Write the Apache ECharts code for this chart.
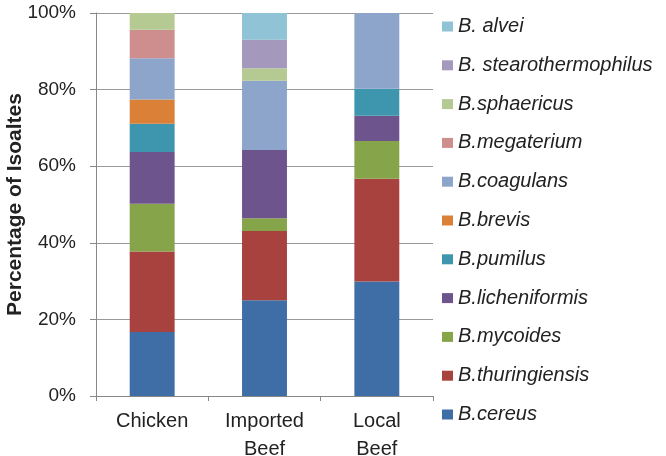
<!DOCTYPE html>
<html>
<head>
<meta charset="utf-8">
<script src="https://cdn.jsdelivr.net/npm/echarts@6/dist/echarts.min.js"></script>
<style>html,body{margin:0;padding:0;background:#fff}#c{width:666px;height:456px}</style>
</head>
<body>
<div id="c"></div>
<script>
const categories = ['Chicken', 'Imported\nBeef', 'Local\nBeef'];
const seriesNames = ['B.cereus', 'B.thuringiensis', 'B.mycoides', 'B.licheniformis', 'B.pumilus', 'B.brevis', 'B.coagulans', 'B.megaterium', 'B.sphaericus', 'B. stearothermophilus', 'B. alvei'];
const cereus = [16.7, 25.0, 29.9];
const thuringiensis = [21.0, 18.1, 26.8];
const mycoides = [12.5, 3.3, 9.9];
const licheniformis = [13.5, 17.8, 6.6];
const pumilus = [7.4, 0, 7.0];
const brevis = [6.3, 0, 0];
const coagulans = [10.8, 18.1, 19.8];
const megaterium = [7.4, 0, 0];
const sphaericus = [4.4, 3.3, 0];
const stearothermophilus = [0, 7.4, 0];
const alvei = [0, 7.0, 0];
const yTicks = [0, 20, 40, 60, 80, 100];

const seriesData = [cereus, thuringiensis, mycoides, licheniformis, pumilus, brevis, coagulans, megaterium, sphaericus, stearothermophilus, alvei];
const colors = ['#3F6EA6', '#A8423F', '#86A44A', '#6E548D', '#3D96AE', '#DA8137', '#8EA5CB', '#CE8E8D', '#B5CA92', '#A598BD', '#8FC3D5'];

const chart = echarts.init(document.getElementById('c'), null, {renderer: 'canvas'});
chart.setOption({
  animation: false,
  color: colors,
  grid: {left: 96, right: 233, top: 13, bottom: 60, outerBoundsMode: 'none', containLabel: false},
  legend: {
    orient: 'vertical',
    left: 442,
    top: 16.5,
    padding: 0,
    data: seriesNames.slice().reverse(),
    itemWidth: 11,
    itemHeight: 10,
    itemGap: 18.8,
    icon: 'rect',
    textStyle: {fontFamily: 'Liberation Sans, Arial', fontStyle: 'italic', fontSize: 20, lineHeight: 20, color: '#222'}
  },
  xAxis: {
    type: 'category',
    data: categories,
    axisLine: {lineStyle: {color: '#888', width: 1}},
    axisTick: {show: true, length: 5, lineStyle: {color: '#888'}},
    axisLabel: {fontFamily: 'Liberation Sans, Arial', fontSize: 20, lineHeight: 28, color: '#222', margin: 11}
  },
  yAxis: {
    type: 'value',
    min: 0,
    max: 100,
    interval: 20,
    name: 'Percentage of Isoaltes',
    nameLocation: 'middle',
    nameGap: 70,
    nameMoveOverlap: false,
    nameTextStyle: {fontFamily: 'Liberation Sans, Arial', fontWeight: 'bold', fontSize: 21, color: '#222'},
    axisLine: {show: true, lineStyle: {color: '#888', width: 1}},
    axisTick: {show: true, length: 6, lineStyle: {color: '#888'}},
    splitLine: {lineStyle: {color: '#999', width: 1}},
    axisLabel: {fontFamily: 'Liberation Sans, Arial', fontSize: 19, color: '#222', margin: 20,
      formatter: v => yTicks.indexOf(v) >= 0 ? v + '%' : ''}
  },
  series: seriesNames.map((n, i) => ({
    name: n,
    type: 'bar',
    stack: 'total',
    barWidth: '40%',
    data: seriesData[i]
  }))
});
</script>
</body>
</html>
